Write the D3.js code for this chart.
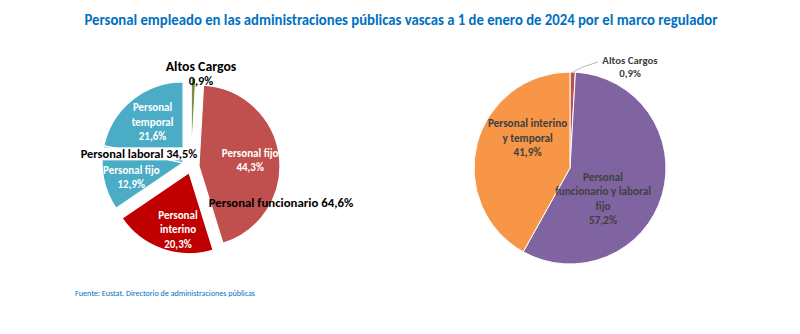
<!DOCTYPE html>
<html>
<head>
<meta charset="utf-8">
<script src="https://cdn.jsdelivr.net/npm/d3@7"></script>
<style>
  body { margin: 0; background: #fff; }
  svg { display: block; font-family: Carlito, Calibri, Lato, sans-serif; }
</style>
</head>
<body>
<svg id="chart" width="800" height="334"></svg>
<script>
// Left pie: marco regulador split by personal type
const leftNames = ["Altos Cargos", "Personal fijo", "Personal interino", "Personal fijo", "Personal temporal"];
const leftGroups = ["Altos Cargos", "Personal funcionario", "Personal funcionario", "Personal laboral", "Personal laboral"];
const leftValues = [0.9, 44.3, 20.3, 12.9, 21.6];

// Right pie: fijo vs interino/temporal
const rightNames = ["Altos Cargos", "Personal funcionario y laboral fijo", "Personal interino y temporal"];
const rightValues = [0.9, 57.2, 41.9];

const title = "Personal empleado en las administraciones públicas vascas a 1 de enero de 2024 por el marco regulador";
const source = "Fuente: Eustat. Directorio de administraciones públicas";

const fmt = v => d3.format(".1f")(v).replace(".", ",") + "%";

const svg = d3.select("#chart");

svg.append("text")
    .attr("x", 401)
    .attr("y", 25)
    .attr("text-anchor", "middle")
    .attr("textLength", 633)
    .attr("lengthAdjust", "spacingAndGlyphs")
    .style("font-weight", "bold")
    .style("font-size", "15px")
    .style("fill", "#0070C0")
    .text(title);

svg.append("text")
    .attr("x", 75)
    .attr("y", 296)
    .attr("textLength", 180)
    .attr("lengthAdjust", "spacingAndGlyphs")
    .style("font-size", "8px")
    .style("fill", "#0070C0")
    .text(source);

// multi-line centred label helper
function label(g, x, y, lines, size, color, lh) {
    const t = g.append("text")
        .attr("text-anchor", "middle")
        .style("font-weight", "bold")
        .style("font-size", size + "px")
        .style("fill", color);
    lines.forEach((s, i) => {
        t.append("tspan")
            .attr("x", x)
            .attr("y", y + (i - (lines.length - 1) / 2) * lh)
            .attr("dy", "0.35em")
            .text(s);
    });
    return t;
}

// ---------- left pie ----------
const L = { cx: 191, cy: 167, r: 81 };
const leftColors = ["#77933C", "#C0504D", "#C00000", "#4BACC6", "#4BACC6"];
// explode each slice along its own bisector, or the bisector of its group
const explodeBy = ["slice", "slice", "slice", "group", "group"];
const explodeDist = [8, 8, 6, 9, 9];

const pie = d3.pie().sort(null).value(d => d);
const leftArcs = pie(leftValues);

const groupSpan = {};
leftArcs.forEach((a, i) => {
    const g = leftGroups[i];
    if (!groupSpan[g]) groupSpan[g] = [a.startAngle, a.endAngle];
    groupSpan[g][1] = a.endAngle;
});

const arcL = d3.arc().innerRadius(0).outerRadius(L.r);

const offsets = leftArcs.map((a, i) => {
    const span = explodeBy[i] === "group" ? groupSpan[leftGroups[i]] : [a.startAngle, a.endAngle];
    const mid = (span[0] + span[1]) / 2;
    return [Math.sin(mid) * explodeDist[i], -Math.cos(mid) * explodeDist[i]];
});

const gL = svg.append("g").attr("transform", `translate(${L.cx},${L.cy})`);

gL.selectAll("path.slice")
    .data(leftArcs)
    .enter()
    .append("path")
    .attr("class", "slice")
    .attr("transform", (d, i) => `translate(${offsets[i][0]},${offsets[i][1]})`)
    .attr("d", arcL)
    .style("fill", (d, i) => leftColors[i])
    .style("stroke", "#fff")
    .style("stroke-width", 1.2);

// group labels
const groupTotal = d3.rollup(leftValues.map((v, i) => ({ v, g: leftGroups[i] })), vs => d3.sum(vs, d => d.v), d => d.g);

label(gL, 10, -101, ["Altos Cargos"], 13.8, "#000", 15);
label(gL, 10, -86, [fmt(groupTotal.get("Altos Cargos"))], 12.3, "#000", 15);

// laboral total sits on the boundary between its two slices, on a white band
const labLab = "Personal laboral " + fmt(groupTotal.get("Personal laboral"));
const tLab = label(gL, -52, -13, [labLab], 12.4, "#000", 15);
const bb = tLab.node().getBBox();
gL.insert("rect", function () { return tLab.node(); })
    .attr("x", bb.x - 1)
    .attr("y", bb.y + 1)
    .attr("width", bb.width + 2)
    .attr("height", bb.height - 2)
    .style("fill", "#fff");

label(gL, 90, 36, ["Personal funcionario " + fmt(groupTotal.get("Personal funcionario"))], 12.8, "#000", 15);

// inner labels: centroid at a fixed radius, nudged
const innerArc = d3.arc().innerRadius(0).outerRadius(L.r * 1.2);
const innerNudge = [null, [3, 0], [5, 11], [-4, 5], [0, -3]];
const innerLead = [null, 14.5, 14.5, 13.5, 14.5];
const innerLines = [
    null,
    ["Personal fijo", fmt(leftValues[1])],
    ["Personal", "interino", fmt(leftValues[2])],
    ["Personal fijo", fmt(leftValues[3])],
    ["Personal", "temporal", fmt(leftValues[4])]
];
leftArcs.forEach((a, i) => {
    if (!innerLines[i]) return;
    const c = innerArc.centroid(a);
    label(gL, c[0] + offsets[i][0] + innerNudge[i][0], c[1] + offsets[i][1] + innerNudge[i][1],
        innerLines[i], 11, "#fff", innerLead[i]);
});

// ---------- right pie ----------
const R = { cx: 570, cy: 168, r: 96 };
const rightColors = ["#C0504D", "#8064A2", "#F79646"];
const rightArcs = pie(rightValues);
const arcR = d3.arc().innerRadius(0).outerRadius(R.r);

const gR = svg.append("g").attr("transform", `translate(${R.cx},${R.cy})`);

gR.selectAll("path.slice")
    .data(rightArcs)
    .enter()
    .append("path")
    .attr("class", "slice")
    .attr("d", arcR)
    .style("fill", (d, i) => rightColors[i])
    .style("stroke", "#fff")
    .style("stroke-width", 1);

const rightInner = d3.arc().innerRadius(0).outerRadius(R.r);
const rightNudge = [null, [-13, 17], [4, -18]];
const rightLines = [
    null,
    ["Personal", "funcionario y laboral", "fijo", fmt(rightValues[1])],
    ["Personal interino", "y temporal", fmt(rightValues[2])]
];
rightArcs.forEach((a, i) => {
    if (!rightLines[i]) return;
    const c = rightInner.centroid(a);
    label(gR, c[0] + rightNudge[i][0], c[1] + rightNudge[i][1], rightLines[i], 11.2, "#404040", 14.5);
});

// leader line for the small slice
const small = rightArcs[0];
const midA = (small.startAngle + small.endAngle) / 2;
const p0 = [Math.sin(midA) * R.r, -Math.cos(midA) * R.r];
gR.append("path")
    .attr("d", d3.line()([p0, [p0[0] + 10, p0[1] - 5], [28, -106]]))
    .style("fill", "none")
    .style("stroke", "#A6A6A6")
    .style("stroke-width", 0.8);

label(gR, 60, -108, [rightNames[0]], 10.8, "#404040", 13);
label(gR, 60, -95, [fmt(rightValues[0])], 10.8, "#404040", 13);
</script>
</body>
</html>
